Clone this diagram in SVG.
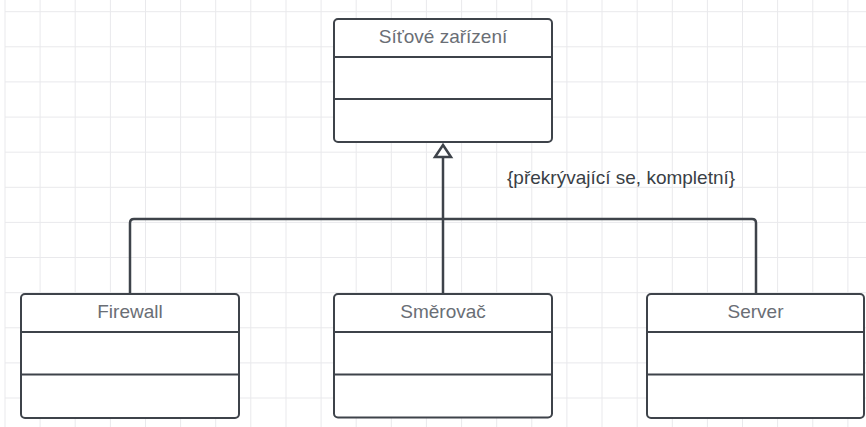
<svg xmlns="http://www.w3.org/2000/svg" width="866" height="427" viewBox="0 0 866 427">
<style>
.grid{stroke:#e9e9ec;stroke-width:1;fill:none}
.box{fill:#ffffff;stroke:#3e434a;stroke-width:2}
.div{stroke:#3e434a;stroke-width:2}
.title{font-family:"Liberation Sans",Arial,sans-serif;font-size:19px;fill:#6a6e75;text-anchor:middle}
.lbl{font-family:"Liberation Sans",Arial,sans-serif;font-size:19px;fill:#3a3f46}
.conn{fill:none;stroke:#3e434a;stroke-width:2.5;stroke-linejoin:round}
</style>
<rect width="866" height="427" fill="#ffffff"/>
<g id="grid">
<path class="grid" d="M5 0V427M40.1 0V427M75.2 0V427M110.4 0V427M145.5 0V427M180.6 0V427M215.7 0V427M250.8 0V427M286 0V427M321.1 0V427M356.2 0V427M391.3 0V427M426.4 0V427M461.6 0V427M496.7 0V427M531.8 0V427M566.9 0V427M602 0V427M637.2 0V427M672.3 0V427M707.4 0V427M742.5 0V427M777.6 0V427M812.8 0V427M847.9 0V427"/>
<path class="grid" d="M5 11.7H866M5 46.8H866M5 81.9H866M5 117.1H866M5 152.2H866M5 187.3H866M5 222.4H866M5 257.5H866M5 292.7H866M5 327.8H866M5 362.9H866M5 398H866"/>
</g>
<g id="connectors">
<path class="conn" d="M130 294V223Q130 219 134 219H752Q756 219 756 223V294"/>
<path class="conn" d="M443 157V294"/>
<path d="M443 145L451 157H435Z" fill="#ffffff" stroke="#3e434a" stroke-width="2.5" stroke-linejoin="miter"/>
<text class="lbl" x="507" y="184">{překrývající se, kompletní}</text>
</g>
<g id="sitove-zarizeni">
<rect class="box" x="334" y="19" width="218" height="123" rx="4"/>
<line class="div" x1="334" y1="57" x2="552" y2="57"/>
<line class="div" x1="334" y1="99" x2="552" y2="99"/>
<text class="title" x="443" y="43">Síťové zařízení</text>
</g>
<g id="firewall">
<rect class="box" x="21" y="294" width="218" height="124" rx="4"/>
<line class="div" x1="21" y1="332" x2="239" y2="332"/>
<line class="div" x1="21" y1="374.5" x2="239" y2="374.5"/>
<text class="title" x="130" y="317.5">Firewall</text>
</g>
<g id="smerovac">
<rect class="box" x="334" y="294" width="218" height="123.5" rx="4"/>
<line class="div" x1="334" y1="332" x2="552" y2="332"/>
<line class="div" x1="334" y1="374.5" x2="552" y2="374.5"/>
<text class="title" x="443" y="317.5">Směrovač</text>
</g>
<g id="server">
<rect class="box" x="647" y="294" width="217" height="124" rx="4"/>
<line class="div" x1="647" y1="332" x2="864" y2="332"/>
<line class="div" x1="647" y1="374.5" x2="864" y2="374.5"/>
<text class="title" x="755.5" y="317.5">Server</text>
</g>
</svg>
